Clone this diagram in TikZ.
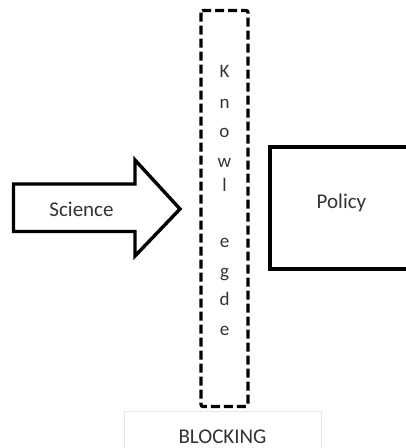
\documentclass[tikz,border=0pt]{standalone}
\usepackage{fontspec}
\setmainfont{Carlito}
\definecolor{txt}{HTML}{333333}
\definecolor{lgray}{HTML}{E6E6E6}
\tikzset{
  heavy/.style={draw=black, line width=3.4pt, line join=miter},
  dashbox/.style={draw=black, line width=3.2pt, dash pattern=on 9pt off 4pt, rounded corners=2pt},
  lbl/.style={text=txt, font=\fontsize{21}{21}\selectfont, inner sep=0pt, anchor=base},
  letter/.style={text=txt, font=\fontsize{19}{19}\selectfont, inner sep=0pt, anchor=base}
}
\begin{document}
\begin{tikzpicture}[x=1pt, y=-1pt]
\useasboundingbox (0,0) rectangle (406,448);
\clip (0,0) rectangle (406,448);
% Blocking box
\draw[lgray, line width=1pt] (124,411) rectangle (321,470);
\node[lbl] (block) at (222.5,443) {BLOCKING};
% Knowledge dashed box
\draw[dashbox] (201,10.5) rectangle (248,406.5);
\node[letter] (k1) at (224.5,77) {K};
\node[letter] (k2) at (224.5,108) {n};
\node[letter] (k3) at (224.5,137) {o};
\node[letter] (k4) at (224.5,167) {w};
\node[letter] (k5) at (224.5,191) {l};
\node[letter] (k6) at (224.5,247) {e};
\node[letter] (k7) at (224.5,277) {g};
\node[letter] (k8) at (224.5,305) {d};
\node[letter] (k9) at (224.5,335) {e};
% Science arrow
\draw[heavy] (13.5,184) -- (135,184) -- (135,160) -- (180,209) -- (135,256) -- (135,231.5) -- (13.5,231.5) -- cycle;
\node[lbl] (sci) at (81.5,216) {Science};
% Policy box
\draw[heavy] (420,147) -- (270,147) -- (270,269) -- (420,269);
\node[lbl] (pol) at (341.5,208) {Policy};
\end{tikzpicture}
\end{document}
